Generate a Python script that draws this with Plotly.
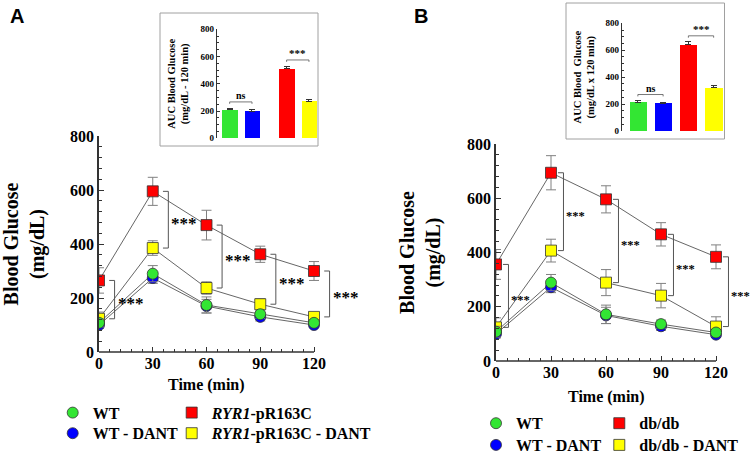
import plotly.graph_objects as go

W, H = 750, 453

# ---------------- data ----------------
time_min = [0, 30, 60, 90, 120]
time_ticks = [0, 30, 60, 90, 120]
time_minor = [6, 12, 18, 24, 36, 42, 48, 54, 66, 72, 78, 84, 96, 102, 108, 114]
glucose_ticks = [0, 200, 400, 600, 800]

# Panel A (mg/dL)
a_names = ["WT", "WT - DANT", "<i>RYR1</i>-pR163C", "<i>RYR1</i>-pR163C - DANT"]
a_wt = [108, 290, 174, 140, 108]
a_wt_err = [15, 30, 30, 15, 10]
a_wtd = [100, 274, 170, 130, 100]
a_wtd_err = [12, 20, 25, 15, 10]
a_mut = [265, 595, 470, 362, 300]
a_mut_err = [47, 52, 55, 30, 35]
a_mutd = [123, 385, 237, 177, 130]
a_mutd_err = [25, 27, 23, 20, 15]

# Panel B (mg/dL)
b_names = ["WT", "WT - DANT", "db/db", "db/db - DANT"]
b_wt = [108, 289, 172, 136, 105]
b_wt_err = [20, 30, 34, 15, 12]
b_wtd = [100, 272, 168, 128, 97]
b_wtd_err = [15, 20, 30, 15, 10]
b_mut = [356, 694, 596, 467, 384]
b_mut_err = [55, 63, 50, 43, 44]
b_mutd = [124, 407, 289, 241, 127]
b_mutd_err = [35, 42, 48, 45, 36]

# Insets: AUC blood glucose
auc_a = [208, 200, 510, 272]
auc_a_err = [14, 12, 20, 10]
auc_b = [212, 204, 640, 320]
auc_b_err = [14, 10, 22, 18]
auc_ticks = [0, 200, 400, 600, 800]

# ---------------- style ----------------
GREEN, BLUE, RED, YELLOW = "#33e633", "#0000ff", "#ff0000", "#ffff00"
SERIF = "Liberation Serif"
AX = "#333333"


def px(x):
    return x / W


def py(y):
    return 1 - y / H


fig = go.Figure()

panels = {
    "A": dict(xa="x", ya="y", x0=99, x120=314, y0=352, y800=136, off=8.7, star=17,
              standoff=24),
    "B": dict(xa="x2", ya="y2", x0=496, x120=716, y0=361, y800=144, off=6.8, star=12.5,
              standoff=21),
}
XMAX = 132

series_A = [
    (a_names[0], a_wt, a_wt_err, GREEN, "circle"),
    (a_names[1], a_wtd, a_wtd_err, BLUE, "circle"),
    (a_names[2], a_mut, a_mut_err, RED, "square"),
    (a_names[3], a_mutd, a_mutd_err, YELLOW, "square"),
]
series_B = [
    (b_names[0], b_wt, b_wt_err, GREEN, "circle"),
    (b_names[1], b_wtd, b_wtd_err, BLUE, "circle"),
    (b_names[2], b_mut, b_mut_err, RED, "square"),
    (b_names[3], b_mutd, b_mutd_err, YELLOW, "square"),
]

legend_ids = {"A": ["legend", "legend2", "legend3", "legend4"],
              "B": ["legend5", "legend6", "legend7", "legend8"]}

for key, series in (("A", series_A), ("B", series_B)):
    p = panels[key]
    for name, vals, err, col, sym in series:
        fig.add_trace(go.Scatter(x=time_min, y=vals, mode="lines",
                                 line=dict(color="#555555", width=0.9),
                                 showlegend=False, hoverinfo="skip",
                                 xaxis=p["xa"], yaxis=p["ya"]))
    for idx in (3, 2, 1, 0):
        name, vals, err, col, sym = series[idx]
        fig.add_trace(go.Scatter(
            x=time_min, y=vals, mode="markers", name=name,
            marker=dict(color=col, size=11, symbol=sym,
                        line=dict(color="#333333", width=0.8)),
            error_y=dict(type="data", array=err, color="#808080",
                         thickness=1, width=5),
            legend=legend_ids[key][idx], showlegend=True,
            xaxis=p["xa"], yaxis=p["ya"]))

    mut, mutd = series[2][1], series[3][1]
    for t, r, yv in zip(time_min, mut, mutd):
        xv = t + p["off"]
        fig.add_shape(type="path",
                      path=f"M {xv-3},{r} L {xv},{r} L {xv},{yv} L {xv-3},{yv}",
                      xref=p["xa"], yref=p["ya"],
                      line=dict(color="#555555", width=1))
        fig.add_annotation(x=xv, y=(r + yv) / 2, xref=p["xa"], yref=p["ya"],
                           text="<b>***</b>", showarrow=False,
                           xanchor="left", yanchor="middle", xshift=1, yshift=-4,
                           font=dict(family=SERIF, size=p["star"], color="black"))
    fig.add_shape(type="line", x0=0, x1=120, y0=0, y1=0,
                  xref=p["xa"], yref=p["ya"] + " domain",
                  line=dict(color=AX, width=1.5))

# ---------------- insets ----------------
inset_pos_a = [0, 1, 2.55, 3.55]
inset_pos_b = [0, 1, 2, 3]
colors4 = [GREEN, BLUE, RED, YELLOW]

fig.add_trace(go.Bar(x=inset_pos_a, y=auc_a, width=0.68, marker_color=colors4,
                     marker_line_width=0, showlegend=False,
                     error_y=dict(type="data", array=auc_a_err, symmetric=False,
                                  arrayminus=[0] * 4, color="#333333",
                                  thickness=1, width=3),
                     xaxis="x3", yaxis="y3"))
fig.add_trace(go.Bar(x=inset_pos_b, y=auc_b, width=0.68, marker_color=colors4,
                     marker_line_width=0, showlegend=False,
                     error_y=dict(type="data", array=auc_b_err, symmetric=False,
                                  arrayminus=[0] * 4, color="#333333",
                                  thickness=1, width=3),
                     xaxis="x4", yaxis="y4"))


def inset_bracket(xa, ya, pos, vals, errs, i, j, label, size):
    lvl = max(vals[i] + errs[i], vals[j] + errs[j]) + 45
    fig.add_shape(type="path",
                  path=f"M {pos[i]},{lvl-14} L {pos[i]},{lvl} L {pos[j]},{lvl} L {pos[j]},{lvl-14}",
                  xref=xa, yref=ya, line=dict(color="#555555", width=0.8))
    fig.add_annotation(x=(pos[i] + pos[j]) / 2, y=lvl, xref=xa, yref=ya,
                       text=f"<b>{label}</b>", showarrow=False, yanchor="bottom",
                       yshift=-1, font=dict(family=SERIF, size=size, color="black"))


inset_bracket("x3", "y3", inset_pos_a, auc_a, auc_a_err, 0, 1, "ns", 10)
inset_bracket("x3", "y3", inset_pos_a, auc_a, auc_a_err, 2, 3, "***", 11)
inset_bracket("x4", "y4", inset_pos_b, auc_b, auc_b_err, 0, 1, "ns", 10)
inset_bracket("x4", "y4", inset_pos_b, auc_b, auc_b_err, 2, 3, "***", 11)

fig.add_shape(type="rect", xref="paper", yref="paper",
              x0=px(160), x1=px(318), y0=py(146), y1=py(13),
              line=dict(color="#a0a0a0", width=1))
fig.add_shape(type="rect", xref="paper", yref="paper",
              x0=px(566), x1=px(724.5), y0=py(139), y1=py(3),
              line=dict(color="#a0a0a0", width=1))

# ---------------- axes ----------------
tickfont = dict(family=SERIF, size=16, color="black", weight="bold")

for key, xname, yname in (("A", "xaxis", "yaxis"), ("B", "xaxis2", "yaxis2")):
    p = panels[key]
    xw = (p["x120"] - p["x0"]) / 120 * XMAX
    fig.layout[xname] = dict(
        domain=[px(p["x0"]), px(p["x0"] + xw)], range=[0, XMAX],
        anchor=p["ya"], showline=False, showgrid=False, zeroline=False,
        tickvals=time_ticks, ticks="inside", ticklen=5, tickcolor=AX, tickwidth=1.2,
        minor=dict(tickvals=time_minor, ticks="inside", ticklen=3,
                   tickcolor=AX, tickwidth=1),
        tickfont=tickfont)
    fig.layout[yname] = dict(
        domain=[py(p["y0"]), py(p["y800"])], range=[0, 800],
        anchor=p["xa"], showline=True, linecolor=AX, linewidth=1.5,
        showgrid=False, zeroline=False,
        tickvals=glucose_ticks, ticks="inside", ticklen=5, tickcolor=AX, tickwidth=1.2,
        minor=dict(dtick=40, ticks="inside", ticklen=3, tickcolor=AX, tickwidth=1),
        tickfont=tickfont,
        title=dict(text="Blood Glucose<br>(mg/dL)", standoff=p["standoff"],
                   font=dict(family=SERIF, size=20, color="black", weight="bold")))

inset_tickfont = dict(family=SERIF, size=9, color="black", weight="bold")
fig.layout["xaxis3"] = dict(domain=[px(216.7), px(317)], range=[-0.58, 3.91],
                            anchor="y3", visible=False)
fig.layout["yaxis3"] = dict(
    domain=[py(138.3), py(29.3)], range=[0, 800], anchor="x3",
    showline=True, linecolor=AX, linewidth=1, showgrid=False, zeroline=False,
    tickvals=auc_ticks, ticks="inside", ticklen=3, tickcolor=AX,
    minor=dict(dtick=50, ticks="inside", ticklen=2, tickcolor=AX),
    tickfont=inset_tickfont,
    title=dict(text="AUC Blood Glucose<br>(mg/dL - 120 min)", standoff=9,
               font=dict(family=SERIF, size=10.5, color="black", weight="bold")))
fig.layout["xaxis4"] = dict(domain=[px(621.7), px(723)], range=[-0.64, 3.37],
                            anchor="y4", visible=False)
fig.layout["yaxis4"] = dict(
    domain=[py(131), py(23.3)], range=[0, 800], anchor="x4",
    showline=True, linecolor=AX, linewidth=1, showgrid=False, zeroline=False,
    tickvals=auc_ticks, ticks="inside", ticklen=3, tickcolor=AX,
    minor=dict(dtick=50, ticks="inside", ticklen=2, tickcolor=AX),
    tickfont=inset_tickfont,
    title=dict(text="AUC Blood  Glucose<br>(mg/dL x 120 min)", standoff=8,
               font=dict(family=SERIF, size=10.5, color="black", weight="bold")))

# ---------------- x titles & panel letters ----------------
for xc, yc in ((206.5, 385), (606, 397)):
    fig.add_annotation(x=px(xc), y=py(yc), xref="paper", yref="paper",
                       text="Time (min)", showarrow=False,
                       xanchor="center", yanchor="middle",
                       font=dict(family=SERIF, size=16, color="black", weight="bold"))
for letter, xc in (("A", 16.5), ("B", 421)):
    fig.add_annotation(x=px(xc), y=py(16), xref="paper", yref="paper",
                       text=letter, showarrow=False, xanchor="center", yanchor="middle",
                       font=dict(family="Liberation Sans", size=20, color="black",
                                 weight="bold"))

# ---------------- legends ----------------
legfont = dict(family=SERIF, size=16, color="black", weight="bold")
leg_pos = {
    "legend": (76.7, 412.7), "legend3": (195.7, 412.7),
    "legend2": (76.7, 433.3), "legend4": (195.7, 433.3),
    "legend5": (500, 423.3), "legend7": (623.3, 423.3),
    "legend6": (500, 445), "legend8": (623.3, 445),
}
for lid, (sx, sy) in leg_pos.items():
    fig.layout[lid] = dict(x=px(sx - 24), y=py(sy), xanchor="left", yanchor="middle",
                           xref="paper", yref="paper", orientation="v",
                           bgcolor="rgba(0,0,0,0)", borderwidth=0, font=legfont)

fig.update_layout(width=W, height=H,
                  margin=dict(l=0, r=0, t=0, b=0, pad=0, autoexpand=False),
                  plot_bgcolor="white", paper_bgcolor="white",
                  font=dict(family=SERIF, color="black"), bargap=0)

fig.write_html("out.html",
               config={"displayModeBar": False},
               post_script="document.body.style.margin='0';"
                           "document.body.style.overflow='hidden';")
